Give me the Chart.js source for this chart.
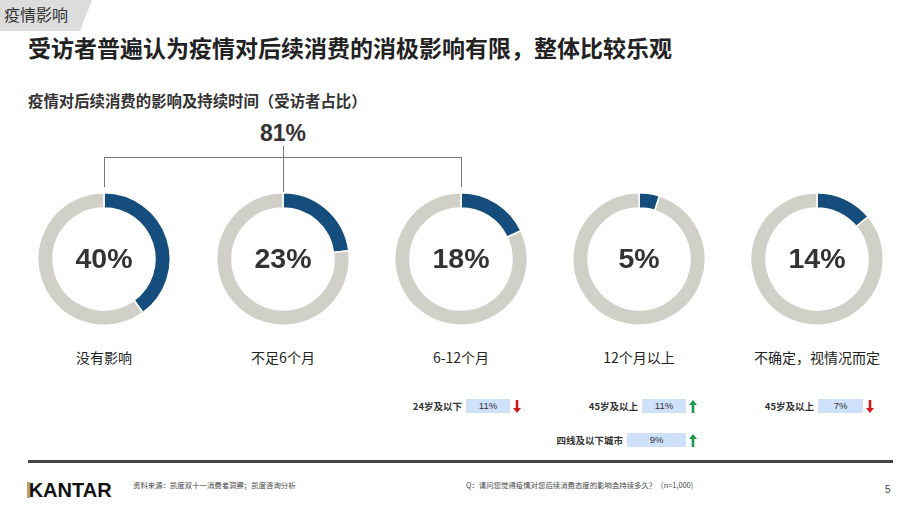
<!DOCTYPE html>
<html><head><meta charset="utf-8">
<script src="https://cdn.jsdelivr.net/npm/chart.js@4"></script>
<style>
html,body{margin:0;padding:0;background:#fff;}
body{width:920px;height:518px;position:relative;overflow:hidden;font-family:"Noto Sans CJK SC","Noto Sans",sans-serif;color:#222;}
.abs{position:absolute;white-space:nowrap;}
#tab{left:0;top:0;width:92px;height:31px;background:#dcdcdc;clip-path:polygon(0 0,100% 0,80px 100%,0 100%);}
#tabt{left:4px;top:4px;font-size:16px;color:#333;line-height:20px;}
#title{left:28px;top:32px;font-size:23px;font-weight:bold;color:#222;line-height:30px;}
#sub{left:28px;top:90px;font-size:15.4px;font-weight:bold;color:#333;line-height:20px;}
canvas.d{position:absolute;}
.pct{position:absolute;width:120px;text-align:center;font-family:"Liberation Sans",Arial,sans-serif;font-weight:bold;font-size:28.5px;color:#333;line-height:30px;}
.cat{position:absolute;width:160px;text-align:center;font-size:14px;color:#222;line-height:20px;}
.ln{position:absolute;background:#777;}
#t81{left:243px;top:119px;width:80px;text-align:center;font-family:"Liberation Sans",Arial,sans-serif;font-weight:bold;font-size:23px;color:#333;line-height:28px;}
.sl{position:absolute;font-size:9.5px;font-weight:bold;color:#333;text-align:right;line-height:14px;}
.bx{position:absolute;height:14px;background:#cfe0fb;font-family:"Liberation Sans",Arial,sans-serif;font-size:9.5px;color:#333;text-align:center;line-height:14px;}
.arr{position:absolute;font-size:12px;font-weight:bold;line-height:14px;}
#bline{left:28px;top:460px;width:865px;height:3px;background:#444;}
#kantar{left:27px;top:478px;font-family:"Liberation Sans",Arial,sans-serif;font-size:20px;font-weight:bold;color:#111;letter-spacing:0px;line-height:24px;}
#kbar{left:27px;top:482px;width:3px;height:16px;background:#b9a26a;}
.fn{position:absolute;font-size:7.4px;color:#444;line-height:10px;}
#pg{left:885px;top:484px;font-family:"Liberation Sans",Arial,sans-serif;font-size:10px;color:#444;}
</style></head><body>
<div id="tab" class="abs"></div><div id="tabt" class="abs">疫情影响</div>
<div id="title" class="abs">受访者普遍认为疫情对后续消费的消极影响有限，整体比较乐观</div>
<div id="sub" class="abs">疫情对后续消费的影响及持续时间（受访者占比）</div>
<div id="t81" class="abs">81%</div>
<div class="ln" style="left:104px;top:157px;width:358px;height:1.2px;"></div>
<div class="ln" style="left:104px;top:157px;width:1.2px;height:30px;"></div>
<div class="ln" style="left:461px;top:157px;width:1.2px;height:30px;"></div>
<div class="ln" style="left:282.5px;top:146px;width:1.2px;height:47px;"></div>
<div id="wrap"></div>
<div id="bline" class="abs"></div>
<div id="kbar" class="abs"></div>
<div id="kantar" class="abs">&#8202;KANTAR</div>
<div class="fn" style="left:133px;top:480px;">资料来源：凯度双十一消费者洞察；凯度咨询分析</div>
<div class="fn" style="left:466px;top:480px;">Q：请问您觉得疫情对您后续消费态度的影响会持续多久？（n=1,000)</div>
<div id="pg" class="abs">5</div>
<script>
const categories = ["没有影响", "不足6个月", "6-12个月", "12个月以上", "不确定，视情况而定"];
const values = [40, 23, 18, 5, 14];
const bracketTotal = "81%";
const subLabels = ["24岁及以下", "45岁及以上", "45岁及以上", "四线及以下城市"];
const subValues = ["11%", "11%", "7%", "9%"];
const subTrend = ["down", "up", "down", "up"];

const centersX = [104, 283, 461, 639, 817];
const cy = 259, size = 134;
const wrap = document.getElementById('wrap');
values.forEach((v, i) => {
  const c = document.createElement('canvas');
  c.className = 'd';
  c.width = size; c.height = size;
  c.style.left = (centersX[i] - size/2) + 'px';
  c.style.top = (cy - size/2) + 'px';
  c.style.width = size + 'px'; c.style.height = size + 'px';
  wrap.appendChild(c);
  new Chart(c, {
    type: 'doughnut',
    data: { labels: [categories[i], '其他'], datasets: [{ data: [v, 100 - v], backgroundColor: ['#154e7c', '#d1d0c8'], borderColor: '#fff', borderWidth: 1.5, hoverOffset: 0 }] },
    options: { responsive: false, animation: false, cutout: '77%', rotation: 0, plugins: { legend: { display: false }, tooltip: { enabled: false } }, layout: { padding: 0 } }
  });
  const p = document.createElement('div');
  p.className = 'pct'; p.textContent = v + '%';
  p.style.left = (centersX[i] - 60) + 'px'; p.style.top = (cy - 16) + 'px';
  wrap.appendChild(p);
  const t = document.createElement('div');
  t.className = 'cat'; t.textContent = categories[i];
  t.style.left = (centersX[i] - 80) + 'px'; t.style.top = '347px';
  wrap.appendChild(t);
});
document.getElementById('t81').textContent = bracketTotal;

const boxes = [
  {l: 466, w: 44, y: 399, ax: 513},
  {l: 642, w: 44, y: 399, ax: 689},
  {l: 818, w: 45, y: 399, ax: 866},
  {l: 627, w: 59, y: 433, ax: 689}
];
subLabels.forEach((s, i) => {
  const b = boxes[i];
  const l = document.createElement('div');
  l.className = 'sl'; l.textContent = s;
  l.style.left = (b.l - 104) + 'px'; l.style.width = '100px'; l.style.top = b.y + 'px';
  wrap.appendChild(l);
  const bx = document.createElement('div');
  bx.className = 'bx'; bx.textContent = subValues[i];
  bx.style.left = b.l + 'px'; bx.style.width = b.w + 'px'; bx.style.top = b.y + 'px';
  wrap.appendChild(bx);
  const a = document.createElement('div');
  a.className = 'arr';
  a.innerHTML = subTrend[i] === 'up'
    ? '<svg width="8" height="13" viewBox="0 0 8 13"><path d="M4 0 L8 5 L5.3 5 L5.3 13 L2.7 13 L2.7 5 L0 5 Z" fill="#1a9b4b"/></svg>'
    : '<svg width="8" height="13" viewBox="0 0 8 13"><path d="M4 13 L8 8 L5.3 8 L5.3 0 L2.7 0 L2.7 8 L0 8 Z" fill="#d0191e"/></svg>';
  a.style.left = b.ax + 'px'; a.style.top = (b.y + 1) + 'px';
  wrap.appendChild(a);
});
</script>
</body></html>
